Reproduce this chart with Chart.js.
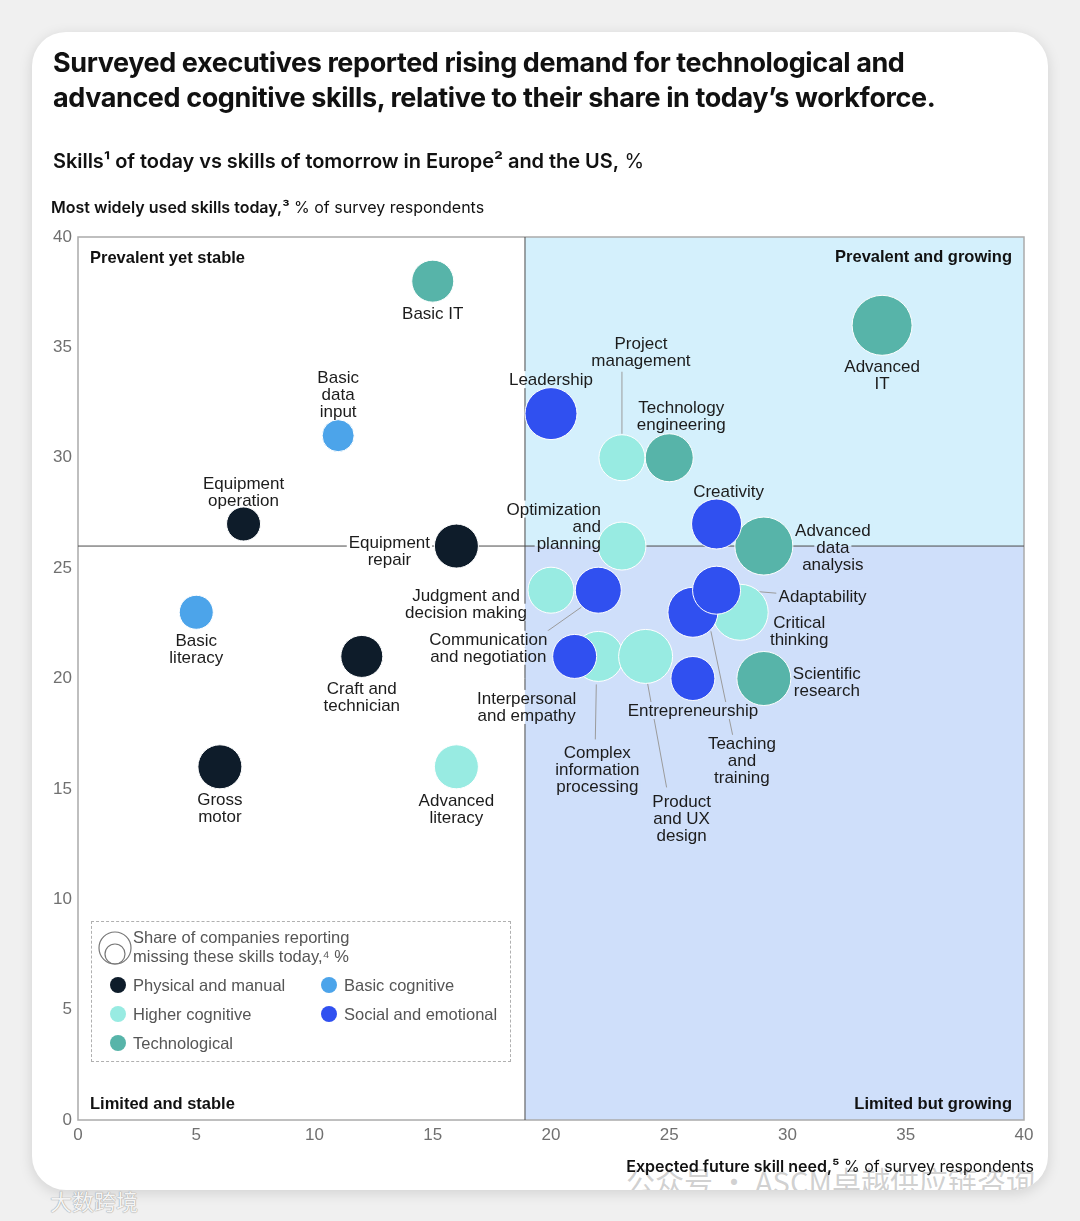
<!DOCTYPE html>
<html>
<head>
<meta charset="utf-8">
<script src="https://cdn.jsdelivr.net/npm/chart.js@4.4.1/dist/chart.umd.min.js"></script>
<style>
html, body { margin: 0; padding: 0; }
body { width: 1080px; height: 1221px; background: #f0f0f0; position: relative; overflow: hidden;
       font-family: "Liberation Sans", Arial, sans-serif; color: #111; }
#card { position: absolute; left: 32px; top: 32px; width: 1016px; height: 1158px; background: #fff;
        border-radius: 34px; box-shadow: 0 3px 14px rgba(0,0,0,0.13); overflow: hidden; }
#wm { position: absolute; left: 594px; top: 1127px; font-family: "Noto Sans CJK SC", sans-serif;
      font-size: 29px; color: rgba(150,150,150,0.45); white-space: nowrap; }
#wm2 { position: absolute; left: 50px; top: 1184px; font-family: "Noto Sans CJK SC", sans-serif;
       font-size: 22px; color: #f4f4f4; text-shadow: 0 0 1px #999, 0 0 1px #999; }
#chart { position: absolute; left: 0; top: 0; z-index: 2; }
.txt { position: absolute; z-index: 3; white-space: nowrap; }
#title { left: 53px; top: 45px; font-family: "Inter", sans-serif; font-weight: 700; font-size: 27px;
         line-height: 35px; letter-spacing: -0.4px; }
#sub { left: 53px; top: 149px; font-family: "Inter", sans-serif; font-size: 20px; letter-spacing: -0.05px; }
#sub b { font-weight: 600; }
#ytitle { left: 51px; top: 197px; font-family: "Inter", sans-serif; font-size: 16px; }
#ytitle b { font-weight: 600; }
#xtitle { right: 46px; top: 1156px; font-family: "Inter", sans-serif; font-size: 16px; }
#xtitle b { font-weight: 600; }
#legend { position: absolute; left: 91px; top: 921px; width: 418px; height: 139px; z-index: 3;
          border: 1px dashed #b0b0b0; color: #555; font-size: 16.5px; }
#legend .head { position: absolute; left: 41px; top: 6px; line-height: 19px; }
#legend svg { position: absolute; left: 6px; top: 8px; }
#legend .item { position: absolute; line-height: 20px; }
#legend .dot { position: absolute; left: -23px; top: 2px; width: 16px; height: 16px; border-radius: 50%; }
</style>
</head>
<body>
<div id="card">
  <div id="wm">公众号 · ASCM卓越供应链咨询</div>
</div>
<div id="wm2">大数跨境</div>
<div class="txt" id="title">Surveyed executives reported rising demand for technological and<br>advanced cognitive skills, relative to their share in today’s workforce.</div>
<div class="txt" id="sub"><b>Skills¹ of today vs skills of tomorrow in Europe² and the US,</b> %</div>
<div class="txt" id="ytitle"><b>Most widely used skills today,³</b> % of survey respondents</div>
<div class="txt" id="xtitle"><b>Expected future skill need,⁵</b> % of survey respondents</div>
<div id="legend"></div>
<canvas id="chart" width="1080" height="1221"></canvas>
<script>
// skills, in drawing order (later ones sit on top)
const skills = ['Basic IT', 'Basic data input', 'Equipment operation', 'Equipment repair', 'Basic literacy',
  'Craft and technician', 'Gross motor', 'Advanced literacy', 'Leadership', 'Technology engineering',
  'Project management', 'Advanced IT', 'Advanced data analysis', 'Creativity', 'Optimization and planning',
  'Judgment and decision making', 'Communication and negotiation', 'Complex information processing',
  'Product and UX design', 'Interpersonal and empathy', 'Entrepreneurship', 'Scientific research',
  'Critical thinking', 'Teaching and training', 'Adaptability'];
const futureNeed = [15, 11, 7, 16, 5, 12, 6, 16, 20, 25, 23, 34, 29, 27, 23, 20, 22, 22, 24, 21, 26, 29, 28, 26, 27];
const usedToday  = [38, 31, 27, 26, 23, 21, 16, 16, 32, 30, 30, 36, 26, 27, 26, 24, 24, 21, 21, 21, 20, 20, 23, 23, 24];
const missingShare = [21, 16, 17, 22, 17, 21, 22, 22, 26, 24, 23, 30, 29, 25, 24, 23, 23, 25, 27, 22, 22, 27, 28, 25, 24];
const skillGroup = [4, 1, 0, 0, 1, 0, 0, 2, 3, 4, 2, 4, 4, 3, 2, 2, 3, 2, 2, 3, 3, 4, 2, 3, 3];

const groups = ['Physical and manual', 'Basic cognitive', 'Higher cognitive', 'Social and emotional', 'Technological'];
const groupColors = ['#0e1c2a', '#4ca4ea', '#98ebe2', '#3050f0', '#57b4a9'];

const labelLines = ['Basic IT', 'Basic\ndata\ninput', 'Equipment\noperation', 'Equipment\nrepair', 'Basic\nliteracy',
  'Craft and\ntechnician', 'Gross\nmotor', 'Advanced\nliteracy', 'Leadership', 'Technology\nengineering',
  'Project\nmanagement', 'Advanced\nIT', 'Advanced\ndata\nanalysis', 'Creativity', 'Optimization\nand\nplanning',
  'Judgment and\ndecision making', 'Communication\nand negotiation', 'Complex\ninformation\nprocessing',
  'Product\nand UX\ndesign', 'Interpersonal\nand empathy', 'Entrepreneurship', 'Scientific\nresearch',
  'Critical\nthinking', 'Teaching\nand\ntraining', 'Adaptability'];

const splitX = 18.9;
const splitY = 26;
const axisMin = 0, axisMax = 40, tickStep = 5;

const quadrantNames = ['Prevalent yet stable', 'Prevalent and growing', 'Limited and stable', 'Limited but growing'];

// label placement relative to bubble centre: [dx, dy of first line, align, leader [x1,y1,x2,y2] or null]
const labelPlace = [
  [0, 32, 'center', null], [0, -58, 'center', null], [0, -41, 'center', null], [-67, -4, 'center', null],
  [0, 28, 'center', null], [0, 32, 'center', null], [0, 33, 'center', null], [0, 34, 'center', null],
  [0, -34, 'center', null], [12, -50, 'center', null], [19, -114, 'center', [0, -86, 0, -24]],
  [0, 41, 'center', null], [69, -16, 'center', null], [12, -33, 'center', null], [-21, -37, 'right', null],
  [-85, 5, 'center', null], [-110, 49, 'center', [-51, 41, -17, 17]], [-1, 96, 'center', [-2, 28, -3, 83]],
  [36, 145, 'center', [2, 27, 21, 131]], [-48, 42, 'center', null], [0, 32, 'center', null],
  [63, -5, 'center', null], [59, 10, 'center', null], [49, 131, 'center', [18, 19, 40, 124]],
  [62, 6, 'left', [24, 0, 60, 3]]
];

const fillTopRight = '#d4f0fc';
const fillBottomRight = '#cfdffa';
const lineH = 17;
const labelFont = '17px "Liberation Sans", Arial, sans-serif';

// legend
const legend = document.getElementById('legend');
legend.innerHTML = '<svg width="36" height="38"><circle cx="17" cy="18" r="16" fill="none" stroke="#777" stroke-width="1.2"/>' +
  '<circle cx="17" cy="24" r="10" fill="none" stroke="#777" stroke-width="1.2"/></svg>' +
  '<div class="head">Share of companies reporting<br>missing these skills today,⁴ %</div>';
const legendSpots = [[41, 53], [252, 53], [41, 82], [252, 82], [41, 111]];
groups.forEach(function (g, i) {
  const d = document.createElement('div');
  d.className = 'item';
  d.style.left = legendSpots[i][0] + 'px';
  d.style.top = legendSpots[i][1] + 'px';
  d.innerHTML = '<span class="dot" style="background:' + groupColors[i] + '"></span>' + g;
  legend.appendChild(d);
});

function fillBg(ctx, q, x0, y0, w, h) {
  const regions = [
    [q.left, q.top, q.sx, q.bottom, '#ffffff'],
    [q.sx, q.top, q.right, q.sy, fillTopRight],
    [q.sx, q.sy, q.right, q.bottom, fillBottomRight]
  ];
  for (const r of regions) {
    const a = Math.max(x0, r[0]), b = Math.max(y0, r[1]);
    const c = Math.min(x0 + w, r[2]), d = Math.min(y0 + h, r[3]);
    if (c > a && d > b) { ctx.fillStyle = r[4]; ctx.fillRect(a, b, c - a, d - b); }
  }
}

function labelBoxes(ctx, i, p) {
  const pl = labelPlace[i];
  const lines = labelLines[i].split('\n');
  return lines.map(function (t, k) {
    const w = ctx.measureText(t).width;
    const x = p.x + pl[0], y = p.y + pl[1] + k * lineH;
    let x0 = x - w / 2;
    if (pl[2] === 'right') x0 = x - w;
    if (pl[2] === 'left') x0 = x;
    return { t: t, x: x, y: y, x0: x0, w: w };
  });
}

const quadrantPlugin = {
  id: 'quadrants',
  beforeDatasetsDraw(chart) {
    const { ctx, chartArea: a, scales } = chart;
    const q = { left: a.left, right: a.right, top: a.top, bottom: a.bottom,
      sx: scales.x.getPixelForValue(splitX), sy: scales.y.getPixelForValue(splitY) };
    ctx.save();
    ctx.fillStyle = fillTopRight;
    ctx.fillRect(q.sx, a.top, a.right - q.sx, q.sy - a.top);
    ctx.fillStyle = fillBottomRight;
    ctx.fillRect(q.sx, q.sy, a.right - q.sx, a.bottom - q.sy);
    ctx.strokeStyle = '#ababab';
    ctx.lineWidth = 1.5;
    ctx.strokeRect(a.left, a.top, a.width, a.height);
    ctx.strokeStyle = '#4a4a4a';
    ctx.lineWidth = 1;
    ctx.beginPath();
    ctx.moveTo(q.sx, a.top); ctx.lineTo(q.sx, a.bottom);
    ctx.moveTo(a.left, q.sy); ctx.lineTo(a.right, q.sy);
    ctx.stroke();
    const pts = chart.getDatasetMeta(0).data;
    ctx.strokeStyle = '#9b9b9b';
    pts.forEach(function (p, i) {
      const ld = labelPlace[i][3];
      if (!ld) return;
      ctx.beginPath();
      ctx.moveTo(p.x + ld[0], p.y + ld[1]);
      ctx.lineTo(p.x + ld[2], p.y + ld[3]);
      ctx.stroke();
    });
    ctx.font = labelFont;
    pts.forEach(function (p, i) {
      labelBoxes(ctx, i, p).forEach(function (b) {
        fillBg(ctx, q, b.x0 - 2, b.y - lineH / 2, b.w + 4, lineH);
      });
    });
    ctx.restore();
  },
  afterDatasetsDraw(chart) {
    const { ctx, chartArea: a } = chart;
    const pts = chart.getDatasetMeta(0).data;
    ctx.save();
    ctx.font = labelFont;
    ctx.fillStyle = '#1c1c1c';
    ctx.textBaseline = 'middle';
    ctx.textAlign = 'left';
    pts.forEach(function (p, i) {
      labelBoxes(ctx, i, p).forEach(function (b) {
        ctx.fillText(b.t, b.x0, b.y + 1);
      });
    });
    ctx.font = 'bold 16.5px "Liberation Sans", Arial, sans-serif';
    ctx.fillStyle = '#111';
    ctx.textAlign = 'left';
    ctx.fillText(quadrantNames[0], a.left + 12, a.top + 21);
    ctx.fillText(quadrantNames[2], a.left + 12, a.bottom - 16);
    ctx.textAlign = 'right';
    ctx.fillText(quadrantNames[1], a.right - 12, a.top + 20);
    ctx.fillText(quadrantNames[3], a.right - 12, a.bottom - 16);
    ctx.restore();
  }
};

const points = skills.map(function (s, i) {
  return { x: futureNeed[i], y: usedToday[i], r: missingShare[i] };
});

new Chart(document.getElementById('chart'), {
  type: 'bubble',
  data: {
    datasets: [{
      label: 'Skills',
      data: points,
      backgroundColor: skillGroup.map(function (g) { return groupColors[g]; }),
      borderColor: '#ffffff',
      borderWidth: 1,
      hoverRadius: 0
    }]
  },
  options: {
    responsive: false,
    animation: false,
    events: [],
    layout: { padding: { left: 28, top: 237, right: 56, bottom: 71 } },
    plugins: { legend: { display: false }, tooltip: { enabled: false } },
    scales: {
      x: {
        min: axisMin, max: axisMax,
        ticks: { stepSize: tickStep, color: '#707070', padding: 5,
                 font: { family: '"Liberation Sans", Arial, sans-serif', size: 17 } },
        grid: { display: false, drawTicks: false },
        border: { display: false },
        afterFit: function (ax) { ax.height = 30; }
      },
      y: {
        min: axisMin, max: axisMax,
        ticks: { stepSize: tickStep, color: '#707070', padding: 6,
                 font: { family: '"Liberation Sans", Arial, sans-serif', size: 17 } },
        grid: { display: false, drawTicks: false },
        border: { display: false },
        afterFit: function (ax) { ax.width = 50; }
      }
    }
  },
  plugins: [quadrantPlugin]
});
</script>
</body>
</html>
